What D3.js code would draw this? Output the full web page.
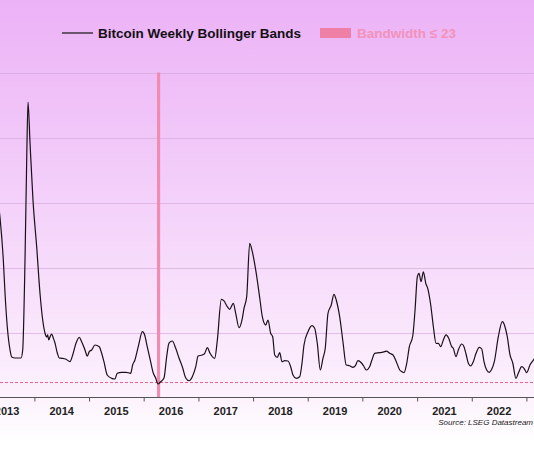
<!DOCTYPE html>
<html>
<head>
<meta charset="utf-8">
<script src="https://cdn.jsdelivr.net/npm/d3@7"></script>
<style>
  html, body { margin: 0; padding: 0; background: #fff; }
  svg { display: block; font-family: "Liberation Sans", Arial, sans-serif; }
</style>
</head>
<body>
<div id="chart"></div>
<script>
// decimal years, one per traced point
var dates = [
  2013.298, 2013.371, 2013.431, 2013.462, 2013.504, 2013.554, 2013.585, 2013.645, 2013.755, 2013.786,
  2013.828, 2013.859, 2013.883, 2013.920, 2013.974, 2014.042, 2014.102, 2014.152, 2014.194, 2014.225,
  2014.243, 2014.262, 2014.285, 2014.316, 2014.346, 2014.377, 2014.419, 2014.455, 2014.499, 2014.578,
  2014.651, 2014.701, 2014.761, 2014.821, 2014.865, 2014.926, 2014.968, 2015.004, 2015.048, 2015.108,
  2015.187, 2015.231, 2015.273, 2015.333, 2015.414, 2015.474, 2015.516, 2015.597, 2015.676, 2015.762,
  2015.798, 2015.840, 2015.901, 2015.977, 2016.018, 2016.065, 2016.127, 2016.175, 2016.219, 2016.261,
  2016.310, 2016.371, 2016.420, 2016.462, 2016.522, 2016.585, 2016.645, 2016.705, 2016.768, 2016.828,
  2016.888, 2016.951, 2016.993, 2017.071, 2017.115, 2017.163, 2017.212, 2017.298, 2017.346, 2017.419,
  2017.468, 2017.528, 2017.572, 2017.638, 2017.682, 2017.743, 2017.803, 2017.834, 2017.883, 2017.938,
  2017.986, 2018.048, 2018.127, 2018.169, 2018.231, 2018.273, 2018.322, 2018.359, 2018.396, 2018.443,
  2018.487, 2018.529, 2018.579, 2018.639, 2018.688, 2018.730, 2018.791, 2018.853, 2018.895, 2018.932,
  2019.005, 2019.078, 2019.127, 2019.175, 2019.230, 2019.279, 2019.321, 2019.371, 2019.431, 2019.480,
  2019.522, 2019.585, 2019.645, 2019.705, 2019.767, 2019.828, 2019.870, 2019.919, 2019.980, 2020.024,
  2020.071, 2020.133, 2020.175, 2020.225, 2020.316, 2020.408, 2020.437, 2020.499, 2020.560, 2020.620,
  2020.682, 2020.724, 2020.761, 2020.810, 2020.858, 2020.920, 2020.962, 2021.004, 2021.035, 2021.072,
  2021.114, 2021.158, 2021.194, 2021.249, 2021.297, 2021.346, 2021.388, 2021.432, 2021.480, 2021.529,
  2021.578, 2021.633, 2021.662, 2021.712, 2021.754, 2021.816, 2021.858, 2021.895, 2021.937, 2021.981,
  2022.028, 2022.078, 2022.138, 2022.182, 2022.224, 2022.273, 2022.321, 2022.365, 2022.413, 2022.486,
  2022.559, 2022.608, 2022.650, 2022.700, 2022.749, 2022.809, 2022.852, 2022.914, 2022.956, 2023.005,
  2023.065, 2023.138, 2023.211
];

// bollinger bandwidth
var bandwidth = [
  319.2, 276.2, 211.5, 160.8, 108.5, 73.1, 62.3, 60.8, 60.8, 73.1,
  211.5, 365.4, 454.6, 391.5, 303.9, 231.5, 160.8, 119.2, 99.2, 93.1,
  96.2, 88.5, 93.1, 97.7, 91.5, 83.8, 68.5, 60.8, 60.3, 58.8,
  55.1, 65.4, 83.4, 92.6, 85.8, 73.1, 63.8, 70.5, 73.1, 80.8,
  78.2, 68.0, 55.1, 34.6, 29.5, 28.5, 37.2, 38.8, 38.8, 37.2,
  50.0, 57.7, 78.2, 101.2, 96.2, 78.2, 55.1, 37.7, 30.0, 20.8,
  24.3, 30.0, 62.8, 83.8, 86.9, 75.7, 60.8, 47.4, 30.0, 25.8,
  32.0, 47.4, 63.8, 65.4, 68.0, 76.6, 68.0, 60.3, 88.5, 151.1,
  148.5, 139.7, 135.7, 144.9, 129.5, 107.4, 121.8, 137.2, 155.1, 237.2,
  224.3, 196.2, 150.0, 124.3, 111.5, 119.2, 98.8, 93.5, 65.4, 61.8,
  68.9, 55.1, 56.6, 56.2, 47.4, 34.6, 29.5, 32.0, 52.6, 80.8,
  101.2, 110.5, 106.5, 83.4, 42.3, 60.3, 75.7, 129.5, 142.3, 158.8,
  150.0, 124.3, 85.8, 50.0, 48.9, 46.5, 48.5, 56.6, 53.5, 48.5,
  42.3, 47.4, 57.7, 68.0, 68.9, 70.5, 71.5, 68.0, 65.4, 55.1,
  42.3, 39.7, 38.2, 52.6, 78.2, 94.6, 134.6, 185.8, 191.1, 178.2,
  193.5, 175.7, 168.0, 142.3, 108.9, 83.4, 83.4, 78.2, 88.5, 96.2,
  91.1, 78.2, 75.7, 62.8, 73.1, 82.3, 78.2, 66.9, 52.6, 48.5,
  55.1, 68.0, 77.2, 74.6, 55.1, 42.3, 38.8, 43.4, 55.1, 93.5,
  116.6, 108.9, 93.5, 65.4, 53.5, 29.5, 37.2, 47.4, 44.9, 38.2,
  50.0, 58.8, 70.0
];

var years = [2013, 2014, 2015, 2016, 2017, 2018, 2019, 2020, 2021, 2022, 2023];
var gridValues = [100, 200, 300, 400, 500];
var threshold = 23;
// weeks where bandwidth <= threshold (decimal years)
var squeezes = [[2016.243, 2016.301]];

var width = 534,
  height = 462;

function toDate(v) {
  var y = Math.floor(v);
  var a = Date.UTC(y, 0, 1),
    b = Date.UTC(y + 1, 0, 1);
  return new Date(a + (v - y) * (b - a));
}

var svg = d3
  .select('#chart')
  .append('svg')
  .attr('width', width)
  .attr('height', height);

var defs = svg.append('defs');

var grad = defs
  .append('linearGradient')
  .attr('id', 'bg')
  .attr('x1', 0)
  .attr('y1', 0)
  .attr('x2', 0)
  .attr('y2', 1);
grad.append('stop').attr('offset', '0%').attr('stop-color', '#ecb2f6');
grad.append('stop').attr('offset', '45%').attr('stop-color', '#f4d2fa');
grad.append('stop').attr('offset', '85%').attr('stop-color', '#fcf1fd');
grad.append('stop').attr('offset', '96%').attr('stop-color', '#ffffff');

defs
  .append('clipPath')
  .attr('id', 'plot-clip')
  .append('rect')
  .attr('x', 0)
  .attr('y', 0)
  .attr('width', width)
  .attr('height', height);

svg
  .append('rect')
  .attr('width', width)
  .attr('height', height)
  .attr('fill', 'url(#bg)');

// scales
var x = d3
  .scaleUtc()
  .domain([toDate(2014), toDate(2023)])
  .range([34.4, 526.4]);

var y = d3.scaleLinear().domain([0, 500]).range([397.5, 72.5]);

var plot = svg.append('g').attr('clip-path', 'url(#plot-clip)');

// grid
plot
  .selectAll('.grid')
  .data(gridValues)
  .enter()
  .append('line')
  .attr('class', 'grid')
  .attr('x1', 0)
  .attr('x2', width)
  .attr('y1', function (d) { return Math.round(y(d)) + 0.5; })
  .attr('y2', function (d) { return Math.round(y(d)) + 0.5; })
  .attr('stroke', '#d6abdc')
  .attr('stroke-width', 0.7);

// squeeze bands
plot
  .selectAll('.squeeze')
  .data(squeezes)
  .enter()
  .append('rect')
  .attr('class', 'squeeze')
  .attr('x', function (d) { return x(toDate(d[0])); })
  .attr('width', function (d) { return x(toDate(d[1])) - x(toDate(d[0])); })
  .attr('y', y(500))
  .attr('height', y(0) - y(500))
  .attr('fill', '#f08cb2');

// threshold
plot
  .append('line')
  .attr('x1', 0)
  .attr('x2', width)
  .attr('y1', y(threshold))
  .attr('y2', y(threshold))
  .attr('stroke', '#e0507f')
  .attr('stroke-width', 0.9)
  .attr('stroke-dasharray', '3,2');

// series
var line = d3
  .line()
  .x(function (d, i) { return x(toDate(dates[i])); })
  .y(function (d) { return y(d); })
  .curve(d3.curveMonotoneX);

plot
  .append('path')
  .datum(bandwidth)
  .attr('d', line)
  .attr('fill', 'none')
  .attr('stroke', '#1a1018')
  .attr('stroke-width', 1.2)
  .attr('stroke-linejoin', 'round');

// x axis
var xAxis = d3
  .axisBottom(x)
  .tickValues(years.map(function (d) { return toDate(d); }))
  .tickSize(4)
  .tickFormat('');

var axisG = plot
  .append('g')
  .attr('transform', 'translate(0,' + y(0) + ')')
  .call(xAxis);

axisG.select('.domain').remove();
axisG.selectAll('.tick line').attr('stroke', '#555').attr('stroke-width', 1);
axisG
  .append('line')
  .attr('x1', 0)
  .attr('x2', width)
  .attr('stroke', '#555')
  .attr('stroke-width', 1);

// year labels centred in each year
plot
  .selectAll('.year')
  .data(years.slice(0, -1))
  .enter()
  .append('text')
  .attr('class', 'year')
  .attr('x', function (d) { return (x(toDate(d)) + x(toDate(d + 1))) / 2; })
  .attr('y', 415)
  .attr('text-anchor', 'middle')
  .attr('font-size', 11)
  .attr('font-weight', 'bold')
  .attr('fill', '#222')
  .text(function (d) { return d; });

// legend
var legend = svg.append('g');
legend
  .append('line')
  .attr('x1', 62)
  .attr('x2', 93)
  .attr('y1', 33)
  .attr('y2', 33)
  .attr('stroke', '#111')
  .attr('stroke-width', 1.2);
legend
  .append('text')
  .attr('x', 98)
  .attr('y', 38)
  .attr('font-size', 13.5)
  .attr('font-weight', 'bold')
  .attr('fill', '#141014')
  .text('Bitcoin Weekly Bollinger Bands');
legend
  .append('rect')
  .attr('x', 320)
  .attr('y', 28)
  .attr('width', 31)
  .attr('height', 10)
  .attr('fill', '#f07fa6');
legend
  .append('text')
  .attr('x', 357)
  .attr('y', 38)
  .attr('font-size', 13.5)
  .attr('font-weight', 'bold')
  .attr('fill', '#f292ba')
  .text('Bandwidth \u2264 ' + threshold);

// source
svg
  .append('text')
  .attr('x', 533)
  .attr('y', 425)
  .attr('text-anchor', 'end')
  .attr('font-size', 8)
  .attr('font-style', 'italic')
  .attr('fill', '#222')
  .text('Source: LSEG Datastream');
</script>
</body>
</html>
